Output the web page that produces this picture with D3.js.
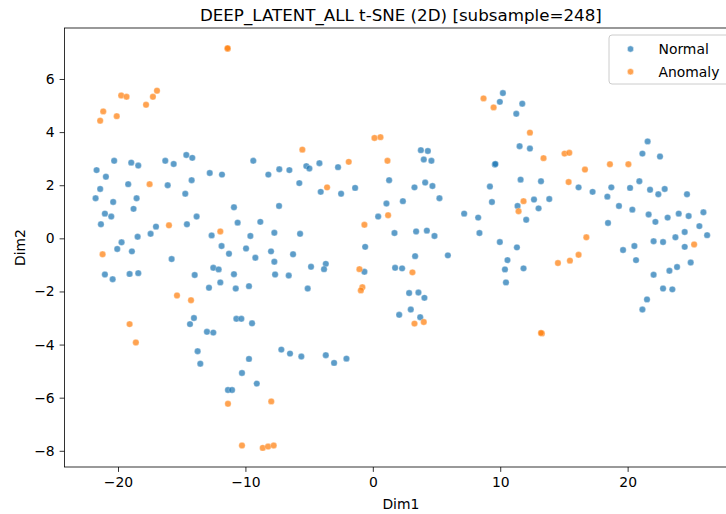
<!DOCTYPE html>
<html>
<head>
<meta charset="utf-8">
<script src="https://cdn.jsdelivr.net/npm/d3@7"></script>
<style>
  body { margin: 0; background: #fff; }
  svg { display: block; font-family: "DejaVu Sans", sans-serif; }
</style>
</head>
<body>
<div class="draw"></div>
<script>
// points, [Dim1, Dim2]
const normalPts = [
  [-21.68, 2.57], [-20.3, 2.92], [-18.96, 2.85], [-18.41, 2.74], [-16.29, 2.92], [-15.63, 2.8],
  [-14.64, 3.14], [-14.17, 3.03], [-12.8, 2.46], [-11.84, 2.4], [-9.38, 2.92], [-8.2, 2.4],
  [-7.34, 2.6], [-6.55, 2.57], [-5.22, 2.72], [-4.98, 2.63], [-4.19, 2.83], [-2.73, 2.68],
  [3.77, 3.32], [4.32, 3.29], [4.0, 2.97], [4.6, 2.92], [9.97, 5.14], [10.21, 5.47],
  [11.73, 5.07], [11.26, 4.69], [11.52, 3.47], [12.33, 3.38], [9.58, 2.78], [9.62, 2.8],
  [21.16, 3.19], [21.57, 3.65], [22.54, 3.08], [-20.95, 2.32], [-19.2, 2.04], [-16.1, 2.0],
  [-14.22, 2.19], [-21.4, 1.86], [-21.76, 1.51], [-20.38, 1.37], [-18.54, 1.51], [-18.78, 1.11],
  [-14.72, 1.68], [-10.9, 1.17], [-21.03, 0.93], [-20.53, 0.82], [-21.34, 0.53], [-13.83, 0.82],
  [-14.59, 0.53], [-17.02, 0.44], [-17.44, 0.17], [-18.46, 0.06], [-19.72, -0.15], [-20.06, -0.4],
  [-18.91, -0.49], [-15.79, -0.78], [-21.03, -1.36], [-20.42, -1.54], [-19.09, -1.34], [-18.41, -1.31],
  [-13.98, -1.38], [-10.61, 0.59], [-8.83, 0.62], [-7.36, 1.22], [-12.65, 0.11], [-9.61, 0.09],
  [-7.73, 0.21], [-11.87, -0.29], [-11.29, -0.58], [-9.95, -0.38], [-9.22, -0.73], [-7.99, -0.49],
  [-7.73, -0.88], [-12.52, -1.11], [-12.1, -1.17], [-10.9, -1.35], [-7.67, -1.36], [-12.86, -1.86],
  [-11.97, -1.66], [-10.76, -1.89], [-9.72, -1.8], [-5.77, 2.08], [-4.09, 1.75], [-2.49, 1.68],
  [-1.39, 1.9], [1.28, 2.19], [3.27, 1.92], [4.11, 2.1], [4.68, 1.97], [5.23, 1.51],
  [1.07, 1.31], [2.36, 1.4], [0.42, 0.82], [7.17, 0.93], [8.27, 0.78], [8.37, 0.2],
  [-5.71, 0.17], [1.7, 0.2], [3.4, 0.26], [4.24, 0.29], [4.84, 0.09], [-0.6, -0.32],
  [-6.26, -0.6], [3.32, -0.67], [5.89, -0.64], [-4.85, -1.07], [-3.69, -0.96], [-3.83, -1.16],
  [-6.6, -1.4], [-0.66, -1.26], [1.75, -1.11], [2.3, -1.13], [-5.11, -1.89], [2.85, -2.06],
  [3.58, -2.04], [4.05, -2.24], [2.98, -2.68], [11.6, 2.21], [13.2, 2.15], [9.19, 1.95],
  [16.15, 1.92], [17.25, 1.75], [18.72, 1.92], [20.19, 1.9], [20.92, 2.15], [21.76, 1.83],
  [22.41, 1.66], [22.91, 1.86], [24.66, 1.66], [9.35, 1.37], [11.36, 1.22], [12.65, 1.46],
  [13.01, 1.13], [13.85, 1.48], [12.04, 0.7], [18.41, 1.57], [19.32, 1.22], [20.37, 1.08],
  [21.65, 0.9], [22.18, 0.62], [23.14, 0.78], [24.01, 0.93], [24.79, 0.84], [25.95, 0.98],
  [18.46, 0.58], [25.63, 0.46], [26.24, 0.12], [24.48, 0.24], [23.75, 0.04], [22.04, -0.11],
  [22.78, -0.14], [24.48, -0.32], [20.53, -0.29], [19.64, -0.44], [20.66, -0.82], [24.95, -0.91],
  [22.04, -1.37], [23.28, -1.22], [23.88, -1.08], [22.78, -1.89], [23.51, -1.92], [21.52, -2.3],
  [21.16, -2.68], [9.97, -0.14], [11.31, -0.34], [10.57, -0.82], [10.37, -1.17], [11.83, -1.13],
  [10.45, -1.66], [-14.35, -3.23], [-14.04, -3.0], [-13.02, -3.52], [-12.52, -3.55], [-10.71, -3.03],
  [-10.32, -3.03], [-9.48, -3.2], [-13.75, -4.25], [-13.54, -4.72], [-9.72, -4.54], [-10.27, -5.07],
  [-9.11, -5.47], [-11.37, -5.71], [-11.05, -5.71], [-7.18, -4.19], [-6.5, -4.34], [-5.61, -4.45],
  [-3.69, -4.4], [-3.04, -4.69], [-2.07, -4.53], [2.07, -2.88], [3.72, -2.97]
];

const anomalyPts = [
  [-11.39, 7.14], [-11.4, 7.16], [-19.75, 5.38], [-19.33, 5.33], [-21.16, 4.78], [-21.4, 4.43],
  [-20.1, 4.6], [-17.8, 5.03], [-17.26, 5.33], [-16.94, 5.56], [-5.53, 3.34], [-1.89, 2.88],
  [0.13, 3.78], [0.6, 3.81], [1.15, 2.92], [8.69, 5.27], [9.48, 4.93], [12.33, 3.98],
  [13.4, 3.02], [15.05, 3.19], [15.42, 3.22], [16.65, 2.59], [18.61, 2.79], [20.06, 2.79],
  [-17.52, 2.04], [-16.0, 0.49], [-21.21, -0.6], [-15.37, -2.15], [-14.27, -2.33], [-11.97, 0.26],
  [-3.59, 1.92], [1.2, 0.87], [-0.66, 0.51], [-1.05, -1.16], [3.11, -1.28], [-0.82, -1.84],
  [-0.94, -1.96], [15.37, 2.12], [11.83, 1.4], [11.44, 1.02], [25.22, -0.23], [16.76, 0.04],
  [16.15, -0.62], [15.47, -0.84], [14.53, -0.93], [-19.09, -3.23], [-18.6, -3.92], [-11.37, -6.23],
  [-7.97, -6.14], [-10.27, -7.8], [-8.64, -7.89], [-8.22, -7.84], [-7.78, -7.8], [3.27, -3.21],
  [4.0, -3.15], [13.27, -3.58], [13.2, -3.56]
];

const seriesNames = ["Normal", "Anomaly"];
const seriesColors = ["#1f77b4", "#ff7f0e"];
const xTicks = [-20, -10, 0, 10, 20];
const yTicks = [-8, -6, -4, -2, 0, 2, 4, 6];

const W = 726, H = 514;
const margin = { top: 28, left: 64.5 };
const graphWidth = 672.7;
const graphHeight = 439;

const svg = d3.select(".draw")
  .append("svg")
  .attr("width", W)
  .attr("height", H);

const graph = svg.append("g")
  .attr("transform", `translate(${margin.left}, ${margin.top})`);

const x = d3.scaleLinear().domain([-24.2, 28.6]).range([0, graphWidth]);
const y = d3.scaleLinear().domain([-8.61, 7.92]).range([graphHeight, 0]);

// points
const series = [normalPts, anomalyPts];
series.forEach((pts, i) => {
  graph.append("g")
    .selectAll("circle")
    .data(pts)
    .enter()
    .append("circle")
    .attr("cx", d => x(d[0]))
    .attr("cy", d => y(d[1]))
    .attr("r", 3.2)
    .attr("fill", seriesColors[i])
    .attr("fill-opacity", 0.72)
    .attr("stroke", "#fff")
    .attr("stroke-opacity", 0.6)
    .attr("stroke-width", 0.5);
});

// axes
const xAxis = d3.axisBottom(x).tickValues(xTicks).tickSize(4.9).tickPadding(4.9).tickFormat(d3.format("d"));
const yAxis = d3.axisLeft(y).tickValues(yTicks).tickSize(4.9).tickPadding(4.9).tickFormat(d3.format("d"));

const xAxisGroup = graph.append("g")
  .attr("transform", `translate(0, ${graphHeight})`)
  .call(xAxis);
const yAxisGroup = graph.append("g").call(yAxis);

[xAxisGroup, yAxisGroup].forEach(g => {
  g.select(".domain").remove();
  g.selectAll("line").attr("stroke", "#000").attr("stroke-width", 0.8);
  g.selectAll("text").attr("fill", "#000").style("font-size", "13.9px")
    .style("font-family", "'DejaVu Sans', sans-serif");
});

// frame (right side lies outside the picture)
graph.append("rect")
  .attr("x", 0)
  .attr("y", 0)
  .attr("width", graphWidth)
  .attr("height", graphHeight)
  .attr("fill", "none")
  .attr("stroke", "#000")
  .attr("stroke-width", 0.8);

// labels
svg.append("text")
  .attr("x", margin.left + graphWidth / 2)
  .attr("y", 21)
  .attr("text-anchor", "middle")
  .style("font-size", "16.7px")
  .text("DEEP_LATENT_ALL t-SNE (2D) [subsample=248]");

svg.append("text")
  .attr("x", margin.left + graphWidth / 2)
  .attr("y", 509)
  .attr("text-anchor", "middle")
  .style("font-size", "13.9px")
  .text("Dim1");

svg.append("text")
  .attr("transform", `translate(25, ${margin.top + graphHeight / 2}) rotate(-90)`)
  .attr("text-anchor", "middle")
  .style("font-size", "13.9px")
  .text("Dim2");

// legend
const legend = graph.append("g").attr("transform", "translate(544.5, 7)");
legend.append("rect")
  .attr("width", 120)
  .attr("height", 49)
  .attr("rx", 3)
  .attr("fill", "#fff")
  .attr("fill-opacity", 0.8)
  .attr("stroke", "#ccc")
  .attr("stroke-width", 1);

seriesNames.forEach((name, i) => {
  legend.append("circle")
    .attr("cx", 21.5)
    .attr("cy", 14 + i * 22.7)
    .attr("r", 3.2)
    .attr("fill", seriesColors[i])
    .attr("fill-opacity", 0.72)
    .attr("stroke", "#fff")
    .attr("stroke-width", 0.5);
  legend.append("text")
    .attr("x", 49.5)
    .attr("y", 14 + i * 22.7 + 5)
    .style("font-size", "13.9px")
    .text(name);
});
</script>
</body>
</html>
